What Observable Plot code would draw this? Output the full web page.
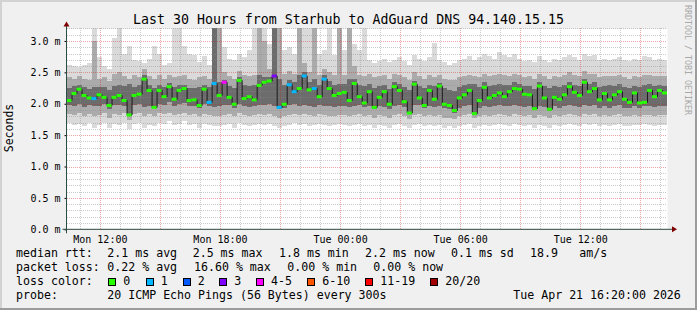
<!DOCTYPE html>
<html><head><meta charset="utf-8">
<script src="https://cdn.jsdelivr.net/npm/d3@7"></script>
<script src="https://cdn.jsdelivr.net/npm/@observablehq/plot@0.6"></script>
<style>
html,body{margin:0;padding:0;background:#f0f0f0;}
#wrap{position:relative;width:697px;height:310px;background:#f0f0f0;overflow:hidden;font-family:"DejaVu Sans Mono",monospace;color:#000;}
#wrap svg{position:absolute;left:0;top:0;}
.t{position:absolute;white-space:pre;line-height:1;font-size:11.6px;}
.box{position:absolute;width:8px;height:8px;box-sizing:border-box;border:1px solid #000;}
</style></head>
<body><div id="wrap"></div>
<script>
// ---- time axis (5-min SmokePing data resampled to 15-min steps) ----
const startTime = "2026-04-20T10:20:00Z";
const endTime = "2026-04-21T16:20:00Z";
const stepMinutes = 15;
const xTicks = ["2026-04-20T12:00:00Z","2026-04-20T18:00:00Z","2026-04-21T00:00:00Z","2026-04-21T06:00:00Z","2026-04-21T12:00:00Z"];
const yTicks = [0, 0.5, 1.0, 1.5, 2.0, 2.5, 3.0];

// ---- median rtt (ms) ----
const med = [2.06,2.17,2.24,2.14,2.10,2.09,2.15,2.11,1.98,2.11,
2.14,2.06,1.83,2.14,2.16,2.40,2.22,1.95,2.22,2.12,
2.28,2.08,2.22,2.25,2.06,2.07,1.98,2.24,2.03,2.33,
2.14,2.35,2.11,2.00,2.38,2.09,2.12,2.07,2.30,2.35,
2.37,2.45,1.95,2.00,2.31,2.20,2.25,2.45,2.23,2.25,
2.12,2.40,2.25,2.14,2.17,2.19,2.06,2.33,2.12,2.02,
2.20,1.95,2.11,2.20,2.00,2.28,2.22,2.04,1.86,2.32,
2.10,1.98,2.22,2.08,2.29,2.00,1.98,1.90,2.10,2.15,
2.22,1.85,2.06,2.27,2.10,2.14,2.18,2.12,2.20,2.25,
2.24,2.16,2.15,1.93,2.29,2.10,1.92,2.11,2.08,2.15,
2.28,2.19,2.14,2.35,2.20,2.25,2.07,2.17,2.07,2.15,
2.20,2.08,2.03,2.18,2.02,2.03,2.22,2.12,2.22,2.18];
// ---- lost pings (of 20) per step ----
const loss = [0,0,0,0,0,1,0,0,0,0, 0,0,0,0,0,0,0,0,0,0, 0,0,0,0,0,0,0,0,1,1,
0,5,0,0,0,0,0,0,0,0, 0,3,1,0,1,1,0,1,0,1, 0,1,0,0,0,0,0,0,0,0,
0,0,0,0,0,0,0,0,0,0, 0,0,0,0,0,0,0,0,0,0, 0,0,0,0,0,0,0,0,0,0,
0,0,0,0,0,0,0,0,0,0, 0,0,0,0,0,0,0,0,0,0, 0,0,0,0,0,0,0,0,0,0];
// ---- smoke: outer (min/max) ----
const aHi = [2.62,2.60,2.58,2.62,2.65,3.20,2.75,2.60,2.55,3.05,
3.20,2.80,2.92,2.70,2.68,2.65,2.72,2.92,2.80,2.62,
2.65,3.20,3.20,2.92,2.80,2.78,2.66,2.76,2.62,3.20,
3.20,2.90,2.72,2.70,2.80,2.75,2.85,3.20,3.20,3.20,
2.95,3.20,3.20,2.85,2.90,2.80,3.20,3.20,3.20,3.20,
2.80,2.85,3.20,2.78,3.20,2.85,3.20,2.95,2.85,3.20,
2.70,2.65,2.68,2.72,2.66,2.70,2.75,2.68,2.62,2.78,
2.72,2.68,2.74,2.96,2.70,2.66,2.62,2.65,2.70,2.72,
2.76,2.70,2.74,2.80,2.76,2.72,2.82,2.78,2.74,2.80,
2.72,2.68,2.70,2.66,2.76,2.70,2.66,2.72,2.70,2.74,
2.78,2.74,2.70,2.80,2.76,2.78,2.70,2.72,2.70,2.72,
2.74,2.70,2.68,2.72,2.70,2.76,2.74,2.70,2.72,2.70];
const aLo = [1.70,1.66,1.68,1.64,1.70,1.62,1.66,1.70,1.62,1.68,
1.66,1.70,1.60,1.68,1.70,1.62,1.66,1.64,1.70,1.68,
1.72,1.66,1.68,1.72,1.66,1.68,1.62,1.68,1.66,1.64,
1.64,1.66,1.68,1.62,1.70,1.66,1.64,1.66,1.68,1.66,
1.68,1.64,1.62,1.64,1.66,1.70,1.66,1.68,1.64,1.66,
1.68,1.66,1.64,1.66,1.68,1.66,1.64,1.66,1.68,1.64,
1.66,1.62,1.66,1.64,1.62,1.66,1.68,1.64,1.62,1.66,
1.68,1.64,1.66,1.64,1.66,1.62,1.64,1.62,1.64,1.66,
1.68,1.62,1.64,1.66,1.64,1.66,1.68,1.66,1.64,1.68,
1.66,1.64,1.66,1.62,1.66,1.64,1.62,1.66,1.64,1.66,
1.68,1.66,1.64,1.68,1.66,1.68,1.64,1.66,1.64,1.66,
1.68,1.64,1.64,1.66,1.66,1.68,1.66,1.64,1.66,1.66];
// ---- smoke: middle band ----
const bHi = [2.42,2.40,2.44,2.40,2.38,3.00,2.40,2.42,2.36,2.48,
2.50,2.44,2.40,2.46,2.42,2.55,2.44,2.40,2.45,2.40,
2.46,2.42,2.44,2.45,2.40,2.38,2.42,2.44,2.40,3.20,
3.20,2.50,2.44,2.40,2.52,2.45,2.44,2.46,3.20,3.00,
2.55,3.20,3.20,2.48,2.52,2.48,3.20,2.65,2.50,3.20,
2.45,2.55,2.50,2.45,3.20,2.46,3.20,2.60,2.45,2.44,
2.48,2.42,2.44,2.46,2.40,2.48,2.46,2.42,2.38,2.50,
2.44,2.40,2.45,2.42,2.46,2.40,2.38,2.38,2.42,2.44,
2.46,2.44,2.42,2.48,2.44,2.45,2.48,2.46,2.44,2.48,
2.46,2.42,2.44,2.40,2.48,2.44,2.40,2.44,2.42,2.46,
2.50,2.46,2.44,2.52,2.48,2.48,2.42,2.44,2.44,2.44,
2.46,2.42,2.40,2.44,2.42,2.46,2.46,2.44,2.44,2.44];
const bLo = [1.83,1.82,1.85,1.80,1.84,1.80,1.82,1.85,1.78,1.84,
1.82,1.85,1.74,1.84,1.86,1.80,1.83,1.80,1.85,1.84,
1.86,1.82,1.84,1.86,1.82,1.84,1.80,1.84,1.82,1.80,
1.80,1.82,1.84,1.80,1.86,1.82,1.80,1.82,1.84,1.82,
1.84,1.80,1.78,1.80,1.82,1.84,1.82,1.84,1.82,1.80,
1.84,1.82,1.80,1.80,1.82,1.82,1.80,1.82,1.84,1.80,
1.82,1.78,1.82,1.80,1.78,1.82,1.84,1.80,1.76,1.82,
1.84,1.80,1.82,1.80,1.82,1.78,1.78,1.76,1.80,1.82,
1.84,1.78,1.80,1.82,1.80,1.82,1.84,1.82,1.80,1.84,
1.82,1.80,1.82,1.78,1.82,1.80,1.78,1.82,1.80,1.82,
1.84,1.82,1.80,1.84,1.82,1.84,1.80,1.82,1.80,1.82,
1.84,1.80,1.80,1.82,1.80,1.82,1.82,1.80,1.82,1.82];
// ---- smoke: inner core ----
const cHi = [2.25,2.28,2.30,2.26,2.24,2.27,2.26,2.27,2.22,2.28,
2.30,2.28,2.32,2.27,2.30,2.45,2.30,2.25,2.30,2.26,
2.33,2.27,2.30,2.30,2.25,2.25,2.26,2.30,2.26,3.20,
2.35,2.38,2.28,2.25,2.42,2.30,2.28,2.30,2.45,2.42,
2.42,3.20,2.40,2.30,2.38,2.34,2.45,2.50,2.35,2.40,
2.30,2.45,2.36,2.30,2.32,2.32,2.40,2.40,2.30,2.28,
2.32,2.25,2.28,2.30,2.24,2.34,2.32,2.27,2.22,2.36,
2.28,2.25,2.30,2.28,2.33,2.25,2.22,2.20,2.26,2.30,
2.32,2.32,2.27,2.34,2.28,2.30,2.32,2.30,2.30,2.34,
2.32,2.28,2.28,2.24,2.35,2.28,2.25,2.28,2.26,2.30,
2.35,2.30,2.28,2.40,2.32,2.34,2.26,2.28,2.30,2.29,
2.31,2.26,2.25,2.29,2.26,2.30,2.32,2.28,2.30,2.29];
const cLo = [1.98,1.97,2.00,1.95,1.98,1.96,1.97,1.99,1.92,1.98,
1.98,1.97,1.80,1.98,2.00,1.95,1.97,1.94,2.00,1.98,
2.02,1.96,1.99,2.01,1.96,1.97,1.93,1.99,1.96,1.95,
1.96,1.98,1.98,1.94,2.00,1.96,1.95,1.96,1.98,1.98,
2.00,1.96,1.92,1.94,1.98,1.99,1.97,1.98,1.96,1.95,
1.98,1.97,1.96,1.95,1.97,1.96,1.95,1.97,1.98,1.95,
1.97,1.92,1.96,1.95,1.92,1.97,1.98,1.95,1.84,1.98,
1.98,1.94,1.96,1.95,1.97,1.93,1.92,1.86,1.94,1.96,
1.98,1.82,1.94,1.97,1.95,1.96,1.98,1.96,1.96,1.98,
1.97,1.95,1.96,1.90,1.97,1.95,1.88,1.96,1.94,1.96,
1.98,1.97,1.95,1.98,1.97,1.98,1.94,1.96,1.94,1.96,
1.98,1.94,1.93,1.96,1.94,1.96,1.97,1.95,1.96,1.96];

// ---- legend texts ----
const titleText = "Last 30 Hours from Starhub to AdGuard DNS 94.140.15.15";
const yLabel = "Seconds";
const watermark = "RRDTOOL / TOBI OETIKER";
const rttLegend = ["median rtt:", "2.1 ms avg", "2.5 ms max", "1.8 ms min", "2.2 ms now", "0.1 ms sd", "18.9", "am/s"];
const lossLegend = ["packet loss:", "0.22 % avg", "16.60 % max", "0.00 % min", "0.00 % now"];
const lossLabels = ["0", "1", "2", "3", "4-5", "6-10", "11-19", "20/20"];
const lossColors = ["#26ff00", "#00b8ff", "#0059ff", "#7e00ff", "#ff00ff", "#ff5500", "#ff0000", "#a10000"];
const probeLegend = ["probe:", "20 ICMP Echo Pings (56 Bytes) every 300s", "Tue Apr 21 16:20:00 2026"];

// ---- build table ----
const t0 = new Date(startTime).getTime();
const stepMs = stepMinutes * 60000;
function lossClass(n) { return n === 0 ? 0 : n === 1 ? 1 : n === 2 ? 2 : n === 3 ? 3 : n <= 5 ? 4 : n <= 10 ? 5 : n <= 19 ? 6 : 7; }
const rows = med.map((m, i) => ({
  t: new Date(t0 + i * stepMs), t2: new Date(t0 + (i + 1) * stepMs),
  med: m, aHi: aHi[i], aLo: aLo[i], bHi: bHi[i], bLo: bLo[i], cHi: cHi[i], cLo: cLo[i],
  col: lossColors[lossClass(loss[i])]
}));
const x0 = new Date(startTime), x1 = new Date(endTime);
const yAll = d3.ticks(0, 3.2, 32);
const yMajor = yAll.filter(v => Math.abs(v * 2 - Math.round(v * 2)) < 1e-6);
const yMinor = yAll.filter(v => !yMajor.includes(v));
const xAll = d3.utcHour.range(x0, x1);
const xMajor = xAll.filter(d => d.getUTCHours() % 3 === 0);
const xMinor = xAll.filter(d => d.getUTCHours() % 3 !== 0);

const chart = Plot.plot({
  width: 697, height: 246,
  marginLeft: 66.5, marginRight: 30, marginTop: 28.4, marginBottom: 16.7,
  style: {background: "transparent", fontFamily: "'DejaVu Sans Mono', monospace", fontSize: "10px", color: "#000", overflow: "visible"},
  color: {type: "identity"},
  x: {type: "utc", domain: [x0, x1], ticks: xTicks.map(s => new Date(s)), tickFormat: d3.utcFormat("%a %H:%M"), tickSize: 0, tickPadding: 6.5, label: null},
  y: {domain: [0, 3.2], ticks: yTicks, tickFormat: d => d.toFixed(1) + " m", tickSize: 2, tickPadding: 4.5, label: null},
  marks: [
    Plot.frame({fill: "#ffffff", stroke: "none"}),
    Plot.rect(rows, {x1: "t", x2: "t2", y1: "aLo", y2: "aHi", fill: "#dadada", inset: 0, shapeRendering: "crispEdges"}),
    Plot.rect(rows, {x1: "t", x2: "t2", y1: "bLo", y2: "bHi", fill: "#ababab", inset: 0, shapeRendering: "crispEdges"}),
    Plot.rect(rows, {x1: "t", x2: "t2", y1: "cLo", y2: "cHi", fill: "#6c6c6c", inset: 0, shapeRendering: "crispEdges"}),
    Plot.ruleY(yMinor, {stroke: "#8c8c8c", strokeOpacity: 0.45, strokeDasharray: "1,1", shapeRendering: "crispEdges"}),
    Plot.ruleX(xMinor, {stroke: "#8c8c8c", strokeOpacity: 0.45, strokeDasharray: "1,1", shapeRendering: "crispEdges"}),
    Plot.ruleY(yMajor, {stroke: "#d02020", strokeOpacity: 0.4, strokeDasharray: "1,1", shapeRendering: "crispEdges"}),
    Plot.ruleX(xMajor, {stroke: "#d02020", strokeOpacity: 0.4, strokeDasharray: "1,1", shapeRendering: "crispEdges"}),
    Plot.line(rows, {x: "t", y: "med", curve: "step-after", stroke: "#1c1c1c", strokeWidth: 1}),
    Plot.ruleY(rows, {y: "med", x1: "t", x2: "t2", stroke: "col", strokeWidth: 3})
  ]
});

// axis lines + arrows (from the scales)
const sx = chart.scale("x"), sy = chart.scale("y");
const xl = sx.range[0], xr = sx.range[1], yb = sy.apply(0), yt = sy.apply(3.2);
const svg = d3.select(chart);
const deco = svg.append("g");
deco.append("line").attr("x1", xl - 4).attr("x2", xr + 6).attr("y1", yb).attr("y2", yb).attr("stroke", "#2c4d43").attr("stroke-width", 1);
deco.append("line").attr("x1", xl).attr("x2", xl).attr("y1", yb + 4).attr("y2", yt - 4).attr("stroke", "#2c4d43").attr("stroke-width", 1);
deco.append("path").attr("d", `M${xr + 5},${yb - 3}L${xr + 10},${yb}L${xr + 5},${yb + 3}Z`).attr("fill", "#7f0000");
deco.append("path").attr("d", `M${xl - 3},${yt - 2}L${xl},${yt - 7}L${xl + 3},${yt - 2}Z`).attr("fill", "#7f0000");

const wrap = document.getElementById("wrap");
wrap.appendChild(chart);

// frame shading
function block(css) { const d = document.createElement("div"); d.style.cssText = "position:absolute;" + css; wrap.appendChild(d); }
block("left:0;top:0;width:697px;height:2px;background:#d2d2d2;");
block("left:0;top:0;width:2px;height:310px;background:#d2d2d2;");
block("left:0;top:308px;width:697px;height:2px;background:#9c9c9c;");
block("left:695px;top:0;width:2px;height:310px;background:#9c9c9c;");

function text(str, x, y, extra) {
  const d = document.createElement("div"); d.className = "t"; d.textContent = str;
  d.style.left = x + "px"; d.style.top = y + "px"; if (extra) d.style.cssText += extra;
  wrap.appendChild(d); return d;
}
// title
text(titleText, 0, 12.8, "width:697px;text-align:center;font-size:13.25px;");
// y label
text(yLabel, 10, 127.5, "font-size:11.5px;transform:translate(-50%,-50%) rotate(-90deg);");
// watermark
text(watermark, 688, 60, "font-size:8.3px;color:#a8a8a8;transform:translate(-50%,-50%) rotate(90deg);");

// legend rows
const rttX = [16, 107.3, 192.7, 279, 365, 451, 530, 579.3];
rttLegend.forEach((s, i) => text(s, rttX[i], 248));
const lossX = [16, 107.3, 194, 287.3, 373.3];
lossLegend.forEach((s, i) => text(s, lossX[i], 262));
text("loss color:", 16, 276);
const boxX = [108.3, 145.7, 182.7, 219.3, 256, 307.3, 365.3, 430.3];
lossLabels.forEach((s, i) => {
  const b = document.createElement("div"); b.className = "box";
  b.style.left = boxX[i] + "px"; b.style.top = "278.3px"; b.style.background = lossColors[i];
  wrap.appendChild(b);
  text(s, boxX[i] + 15, 276);
});
const probeX = [16, 107.3, 513.3];
probeLegend.forEach((s, i) => text(s, probeX[i], 290));
</script>
</body></html>
